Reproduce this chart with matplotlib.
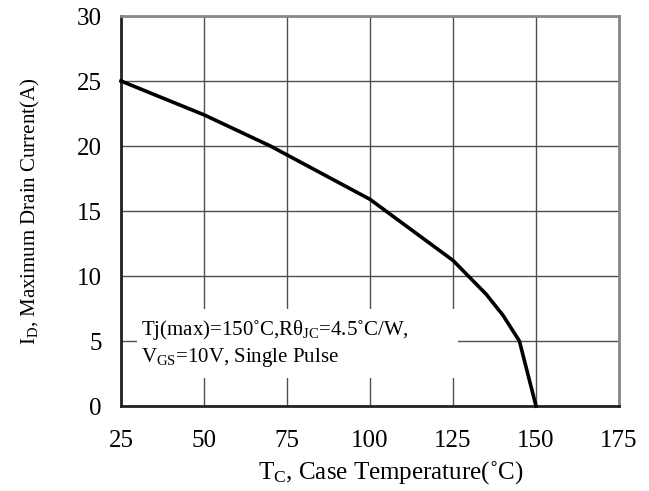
import matplotlib
matplotlib.use("Agg")
import matplotlib.pyplot as plt
from matplotlib.patches import Rectangle

# Tc (°C) vs ID (A)
tc = [25, 50, 70, 100, 125, 135, 140, 145, 150]
i_d = [25.0, 22.4, 20.0, 15.9, 11.2, 8.6, 7.0, 5.0, 0.0]

x_ticks = [25, 50, 75, 100, 125, 150, 175]
y_ticks = [0, 5, 10, 15, 20, 25, 30]

plt.rcParams['font.family'] = ['Liberation Serif', 'DejaVu Serif']
plt.rcParams['mathtext.fontset'] = 'custom'
plt.rcParams['mathtext.rm'] = 'Liberation Serif'
plt.rcParams['mathtext.it'] = 'Liberation Serif'

fig = plt.figure(figsize=(6.49, 4.91), dpi=100)
ax = fig.add_axes([0.1864, 0.173, 0.7674, 0.7944])

ax.set_xlim(25, 175)
ax.set_ylim(0, 30)
ax.set_xticks(x_ticks)
ax.set_yticks(y_ticks)
ax.tick_params(length=0, labelsize=18)
ax.tick_params(axis='x', pad=17.5)
ax.tick_params(axis='y', pad=14)
ax.grid(True, color='#505050', linewidth=1.0, zorder=1)
ax.set_axisbelow(True)

for side in ['top', 'right']:
    ax.spines[side].set_color('#888888')
    ax.spines[side].set_linewidth(2)
for side in ['left', 'bottom']:
    ax.spines[side].set_color('#222222')
    ax.spines[side].set_linewidth(2)

# white box behind the note
ax.add_patch(Rectangle((29.8, 2.15), 96.7, 5.35, facecolor='white',
                       edgecolor='none', zorder=2))

ax.plot(tc, i_d, color='black', linewidth=2.6, zorder=3, clip_on=False)

ax.text(31.0, 5.85, r'Tj(max)=150˚C,R$\mathregular{\theta_{JC}}$=4.5˚C/W,',
        fontsize=15, va='center', zorder=4)
ax.text(31.0, 3.7, r'V$\mathregular{_{GS}}$=10V, Single Pulse',
        fontsize=15, va='center', zorder=4)

ax.set_xlabel(r'T$\mathregular{_C}$, Case Temperature(˚C)', fontsize=18)
ax.xaxis.set_label_coords(0.542, -0.135)
ax.set_ylabel(r'I$\mathregular{_D}$, Maximum Drain Current(A)', fontsize=15, labelpad=25)

fig.savefig('out.png', dpi=100)
